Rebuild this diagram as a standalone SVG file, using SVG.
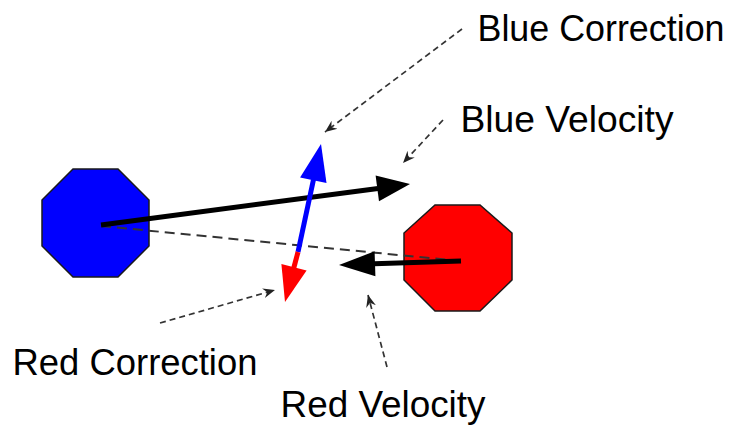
<svg xmlns="http://www.w3.org/2000/svg" width="731" height="425" viewBox="0 0 731 425">
<style>
.oct{stroke:#1a1a1a;stroke-width:1.5}
.thick{stroke-width:5;fill:none;stroke-linecap:butt}
.ptr{stroke:#333;stroke-width:1.7;stroke-dasharray:6,4;fill:none}
.lbl{font-family:"Liberation Sans",Arial,sans-serif;font-size:37px;fill:#000}
</style>
<defs>
<marker id="ah" markerUnits="userSpaceOnUse" markerWidth="14" markerHeight="12" refX="12" refY="5" orient="auto" viewBox="0 0 14 10">
<path d="M0,0 L12,5 L0,10 L4,5 Z" fill="#222"/>
</marker>
</defs>
<rect width="731" height="425" fill="#fff"/>
<g id="blue-node">
<polygon class="oct" fill="#0000ff" points="73,169 118,169 149,200 149,246 118,277 73,277 42,246 42,200"/>
</g>
<g id="red-node">
<polygon class="oct" fill="#ff0000" points="435,205 480,205 512,233 512,280 480,311 435,311 404,280 404,233"/>
</g>
<g id="connectors">
<line x1="101" y1="226" x2="460" y2="261" stroke="#333" stroke-width="2" stroke-dasharray="10,6"/>
<line class="thick" x1="101" y1="225" x2="378" y2="188.5" stroke="#000"/>
<polygon points="410,184 379,201.2 375.6,175.4" fill="#000"/>
<line class="thick" x1="461" y1="261" x2="374" y2="263.8" stroke="#000"/>
<polygon points="339,265 375.4,276.3 374.6,251.3" fill="#000"/>
<line class="thick" x1="298" y1="252" x2="313.5" y2="179.5" stroke="#0000ff"/>
<polygon points="321,144 326.5,183 300.1,177.4" fill="#0000ff"/>
<line class="thick" x1="298" y1="252" x2="293.5" y2="269" stroke="#ff0000"/>
<polygon points="285,302 306.6,270.5 281.4,263.9" fill="#ff0000"/>
<line class="ptr" x1="462" y1="29" x2="325" y2="132" marker-end="url(#ah)"/>
<line class="ptr" x1="443" y1="120" x2="403" y2="163" marker-end="url(#ah)"/>
<line class="ptr" x1="160" y1="323" x2="275" y2="290" marker-end="url(#ah)"/>
<line class="ptr" x1="387" y1="367" x2="368" y2="295" marker-end="url(#ah)"/>
</g>
<g id="labels">
<text class="lbl" x="477.5" y="41" textLength="247" lengthAdjust="spacingAndGlyphs">Blue Correction</text>
<text class="lbl" x="460.5" y="132" textLength="213" lengthAdjust="spacingAndGlyphs">Blue Velocity</text>
<text class="lbl" x="12.5" y="374.5" textLength="245" lengthAdjust="spacingAndGlyphs">Red Correction</text>
<text class="lbl" x="280.5" y="417" textLength="205" lengthAdjust="spacingAndGlyphs">Red Velocity</text>
</g>
</svg>
